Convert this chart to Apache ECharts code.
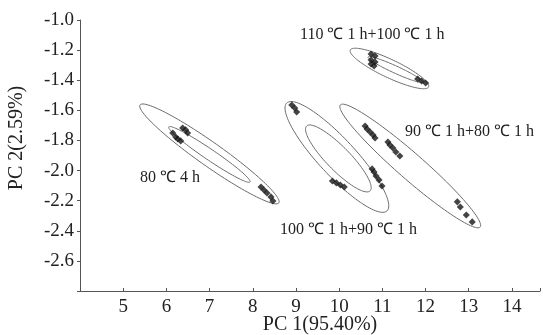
<!DOCTYPE html>
<html>
<head>
<meta charset="utf-8">
<script src="https://cdn.jsdelivr.net/npm/echarts@6/dist/echarts.min.js"></script>
<style>html,body{margin:0;padding:0;background:#fff;}#c{width:543px;height:335px;}</style>
</head>
<body>
<div id="c"></div>
<script>
// ---- data (PC1, PC2) ----
var g80_4h = [[6.148,-1.750],[6.217,-1.777],[6.263,-1.790],[6.332,-1.803],[6.377,-1.717],[6.446,-1.730],[6.492,-1.750],
              [8.191,-2.109],[8.260,-2.129],[8.329,-2.149],[8.421,-2.175],[8.467,-2.202]];
var g100_90 = [[8.903,-1.564],[8.972,-1.584],[9.017,-1.611],
               [9.844,-2.069],[9.936,-2.082],[10.028,-2.096],[10.119,-2.109],
               [10.762,-1.989],[10.808,-2.009],[10.854,-2.036],[10.923,-2.062],[10.992,-2.102]];
var g90_80 = [[10.601,-1.704],[10.647,-1.724],[10.716,-1.744],[10.785,-1.764],[10.831,-1.784],
              [11.129,-1.810],[11.175,-1.830],[11.244,-1.850],[11.313,-1.877],[11.405,-1.903],
              [12.736,-2.208],[12.805,-2.242],[12.943,-2.295],[13.081,-2.341]];
var g110_100 = [[10.739,-1.226],[10.831,-1.239],[10.739,-1.266],[10.831,-1.279],[10.739,-1.292],[10.808,-1.305],
                [11.818,-1.392],[11.910,-1.405],[12.002,-1.418]];
// confidence ellipses: major-axis end points (x1,y1,x2,y2) and minor/major ratio
var ellipses = [
  [5.390,-1.564, 8.604,-2.215, 0.14],
  [6.056,-1.710, 7.938,-2.076, 0.11],
  [8.788,-1.551,11.107,-2.268, 0.25],
  [9.247,-1.704,10.716,-2.135, 0.26],
  [10.028,-1.564,13.264,-2.375, 0.14],
  [10.257,-1.199,12.071,-1.445, 0.21],
  [10.670,-1.246,11.933,-1.412, 0.12]
];
var groupLabels = ['110 \u2103 1 h+100 \u2103 1 h','90 \u2103 1 h+80 \u2103 1 h','80 \u2103 4 h','100 \u2103 1 h+90 \u2103 1 h'];
var xName = 'PC 1(95.40%)';
var yName = 'PC 2(2.59%)';

var FONT = "'Liberation Serif','Times New Roman',serif";
var chart = echarts.init(document.getElementById('c'), null, {renderer:'canvas'});

function ellipseRender(params, api) {
  var p1 = api.coord([api.value(0), api.value(1)]);
  var p2 = api.coord([api.value(2), api.value(3)]);
  var r = api.value(4);
  var cx = (p1[0]+p2[0])/2, cy = (p1[1]+p2[1])/2;
  var ux = (p2[0]-p1[0])/2, uy = (p2[1]-p1[1])/2;
  var vx = -uy * r, vy = ux * r;
  var pts = [];
  for (var i = 0; i < 120; i++) {
    var t = i/120*Math.PI*2;
    pts.push([cx + Math.cos(t)*ux + Math.sin(t)*vx, cy + Math.cos(t)*uy + Math.sin(t)*vy]);
  }
  return {type:'polygon', shape:{points:pts}, style:{fill:'none', stroke:'#6a6a6a', lineWidth:1}};
}

function scatter(d){
  return {type:'scatter', data:d, symbol:'rect', symbolSize:5, symbolRotate:45,
          itemStyle:{color:'#151515'}, z:5};
}

var textStyle = {fill:'#222', font:'16px '+FONT, textVerticalAlign:'middle'};
var titleStyle = {fill:'#222', font:'20px '+FONT, textAlign:'center', textVerticalAlign:'middle'};
chart.setOption({
  animation:false,
  grid:{left:80, right:0, top:20, bottom:44},
  xAxis:{type:'value', min:4, max:14.65, interval:1,
    axisLine:{lineStyle:{color:'#555', width:1}},
    axisTick:{inside:true, length:3, lineStyle:{color:'#555'}},
    axisLabel:{fontFamily:FONT, fontSize:19, color:'#222', margin:7,
      formatter:function(v){ return (v<4.5||Math.abs(v-Math.round(v))>1e-6)?'':String(Math.round(v)); }},
    splitLine:{show:false}},
  yAxis:{type:'value', min:-2.8, max:-1.0, interval:0.2,
    axisLine:{show:true, lineStyle:{color:'#555', width:1}},
    axisTick:{show:true, length:3, lineStyle:{color:'#555'}},
    axisLabel:{fontFamily:FONT, fontSize:19, color:'#222', margin:6,
      formatter:function(v){ return v < -2.75 ? '' : v.toFixed(1); }},
    splitLine:{show:false}},
  series:[
    {type:'custom', renderItem:ellipseRender, data:ellipses,
     encode:{x:[0,2], y:[1,3]}, silent:true, z:2},
    scatter(g80_4h), scatter(g100_90), scatter(g90_80), scatter(g110_100)
  ],
  graphic:[
    {type:'text', x:300, y:35, style:Object.assign({text:groupLabels[0]}, textStyle)},
    {type:'text', x:405, y:132, style:Object.assign({text:groupLabels[1]}, textStyle)},
    {type:'text', x:140, y:178, style:Object.assign({text:groupLabels[2]}, textStyle)},
    {type:'text', x:280, y:230, style:Object.assign({text:groupLabels[3]}, textStyle)},
    {type:'text', x:320, y:325, style:Object.assign({text:xName}, titleStyle)},
    {type:'text', x:17, y:138, rotation:Math.PI/2, style:Object.assign({text:yName}, titleStyle)}
  ]
});
</script>
</body>
</html>
